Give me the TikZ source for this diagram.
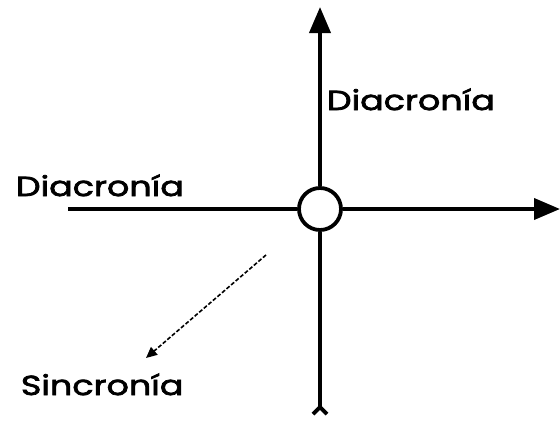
\documentclass[tikz,border=0pt]{standalone}
\usepackage{fontspec}
\setmainfont{Poppins}[FakeBold=2.6, FakeStretch=1.27]
\usetikzlibrary{arrows.meta}
\begin{document}
\begin{tikzpicture}[x=1pt, y=-1pt, >={Triangle[length=26pt,width=21pt]}, line width=3.8pt]
    \tikzstyle{axislabel} = [font=\fontsize{27.5}{32}\selectfont, inner sep=0pt, anchor=base west]
    \tikzstyle{origin} = [draw, circle, fill=white, minimum size=42pt, inner sep=0pt, line width=3.8pt]
    \tikzstyle{end} = [coordinate]

    \useasboundingbox (0,0) rectangle (560,423);

    \node [origin] (O) at (320,209) {};
    \node [end] (top) at (320,7) {};
    \node [end] (bottom) at (320,416) {};
    \node [end] (left) at (68,209) {};
    \node [end] (right) at (560,209) {};
    \node [end] (from) at (266,255) {};
    \node [end] (to) at (146,358) {};

    \node [axislabel] (diatop) at (325,110) {Diacronía};
    \node [axislabel] (dialeft) at (14,196) {Diacronía};
    \node [axislabel] (sinc) at (19,395) {Sincronía};

    \draw [->] (O) -- (top);
    \draw [-{Straight Barb[reversed,length=7pt,width=14pt]}] (O) -- (bottom);
    \draw (left) -- (O);
    \draw [->] (O) -- (right);
    \draw [-{Triangle[length=11pt,width=10pt]}, line width=1.6pt, dash pattern=on 4pt off 2pt] (from) -- (to);
\end{tikzpicture}
\end{document}
